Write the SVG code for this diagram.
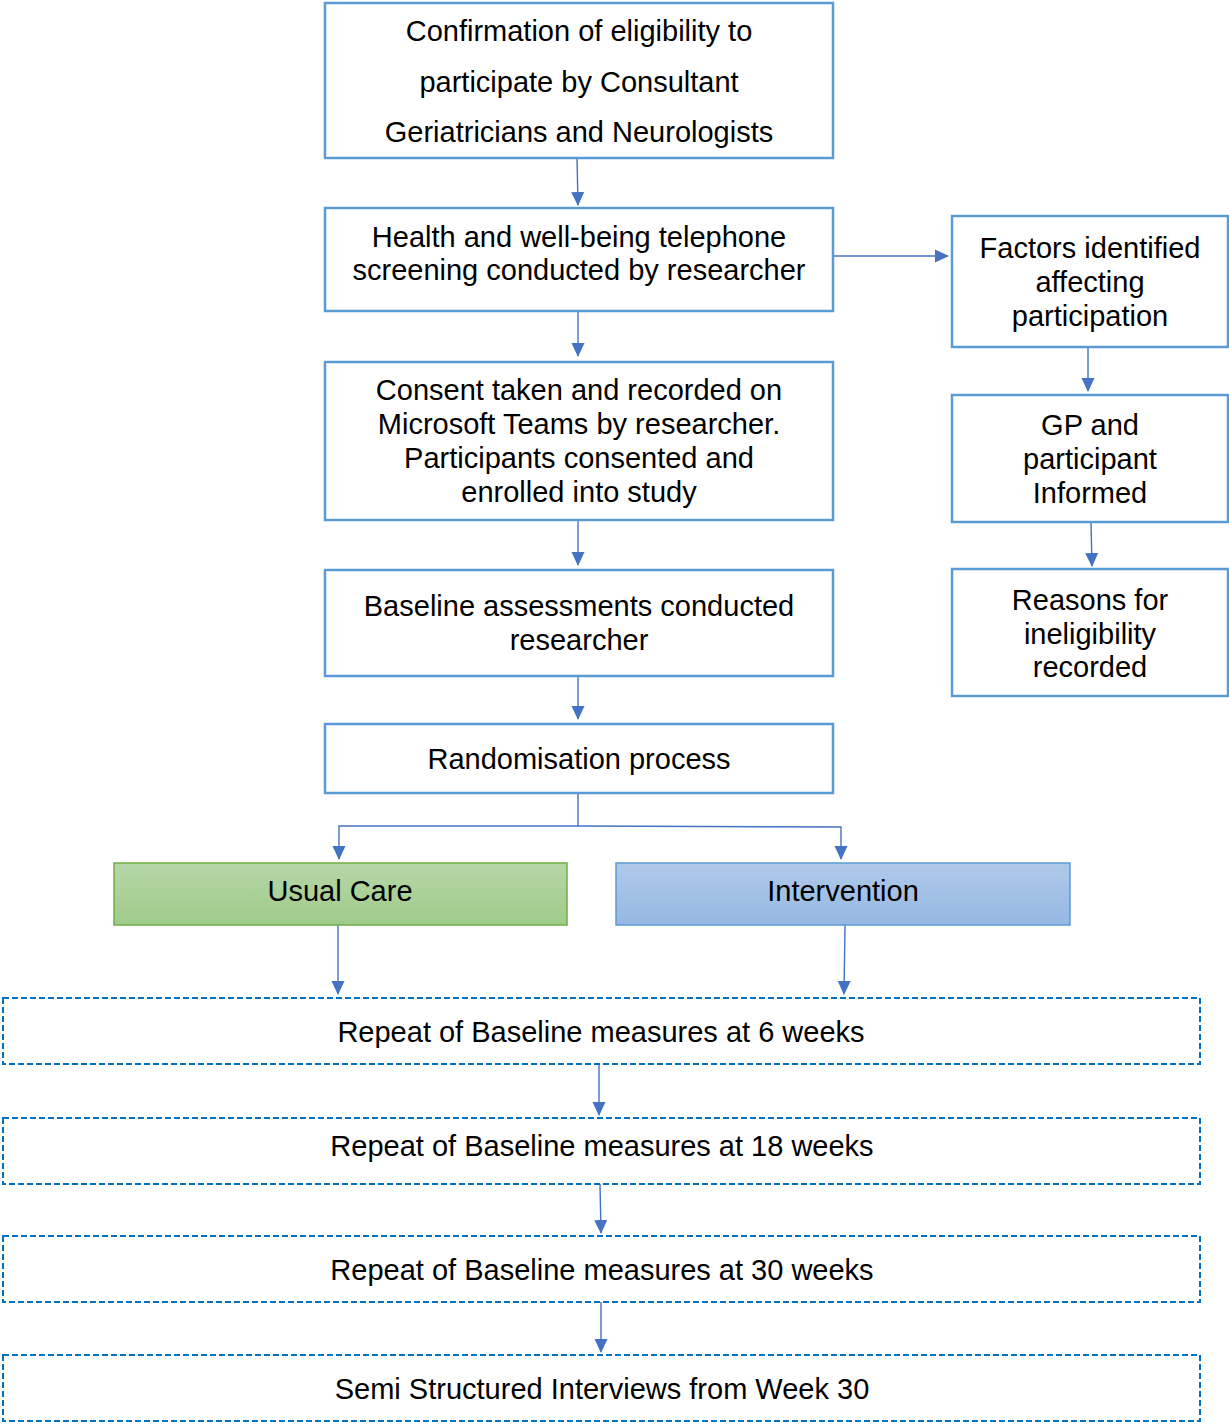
<svg xmlns="http://www.w3.org/2000/svg" width="1229" height="1424" viewBox="0 0 1229 1424">
  <defs>
    <marker id="arrow" markerUnits="userSpaceOnUse" markerWidth="14" markerHeight="14" viewBox="0 0 14 14" refX="13" refY="7" orient="auto">
      <path d="M0,0.5 L14,7 L0,13.5 Z" fill="#4472c4"/>
    </marker>
    <linearGradient id="gradGreen" x1="0" y1="0" x2="0" y2="1">
      <stop offset="0" stop-color="#b6d7a8"/>
      <stop offset="1" stop-color="#9fcb88"/>
    </linearGradient>
    <linearGradient id="gradBlue" x1="0" y1="0" x2="0" y2="1">
      <stop offset="0" stop-color="#b0c9ea"/>
      <stop offset="1" stop-color="#95b8e2"/>
    </linearGradient>
  </defs>
  <style>
    .box { fill: #ffffff; stroke: #5b9bd5; stroke-width: 2.5; }
    .dash { fill: #ffffff; stroke: #0070c0; stroke-width: 2; stroke-dasharray: 6 3; }
    .t { font-family: "Liberation Sans", Arial, sans-serif; font-size: 29px; fill: #000000; text-anchor: middle; }
    .conn { fill: none; stroke: #4472c4; stroke-width: 1.4; }
  </style>
  <rect width="1229" height="1424" fill="#ffffff"/>

  <g id="connectors">
    <path class="conn" d="M577,158 L578,205" marker-end="url(#arrow)"/>
    <path class="conn" d="M578,311 L578,356" marker-end="url(#arrow)"/>
    <path class="conn" d="M578,520 L578,565" marker-end="url(#arrow)"/>
    <path class="conn" d="M578,676 L578,719" marker-end="url(#arrow)"/>
    <path class="conn" d="M578,793 L578,826"/>
    <path class="conn" d="M578,826 L339,826 L339,859" marker-end="url(#arrow)"/>
    <path class="conn" d="M578,826 L841,827 L841,859" marker-end="url(#arrow)"/>
    <path class="conn" d="M338,925 L338,994" marker-end="url(#arrow)"/>
    <path class="conn" d="M845,925 L844,994" marker-end="url(#arrow)"/>
    <path class="conn" d="M599,1064 L599,1115" marker-end="url(#arrow)"/>
    <path class="conn" d="M600,1184 L601,1233" marker-end="url(#arrow)"/>
    <path class="conn" d="M601,1302 L601,1352" marker-end="url(#arrow)"/>
    <path class="conn" d="M833,256 L948,256" marker-end="url(#arrow)"/>
    <path class="conn" d="M1088,347 L1088,391" marker-end="url(#arrow)"/>
    <path class="conn" d="M1091,522 L1092,566" marker-end="url(#arrow)"/>
  </g>

  <g id="eligibility">
    <rect class="box" x="325" y="3" width="508" height="155"/>
    <text class="t" x="579" y="41">Confirmation of eligibility to</text>
    <text class="t" x="579" y="92">participate by Consultant</text>
    <text class="t" x="579" y="142">Geriatricians and Neurologists</text>
  </g>

  <g id="screening">
    <rect class="box" x="325" y="208" width="508" height="103"/>
    <text class="t" x="579" y="247">Health and well-being telephone</text>
    <text class="t" x="579" y="280">screening conducted by researcher</text>
  </g>

  <g id="consent">
    <rect class="box" x="325" y="362" width="508" height="158"/>
    <text class="t" x="579" y="400">Consent taken and recorded on</text>
    <text class="t" x="579" y="434">Microsoft Teams by researcher.</text>
    <text class="t" x="579" y="468">Participants consented and</text>
    <text class="t" x="579" y="502">enrolled into study</text>
  </g>

  <g id="baseline">
    <rect class="box" x="325" y="570" width="508" height="106"/>
    <text class="t" x="579" y="616">Baseline assessments conducted</text>
    <text class="t" x="579" y="650">researcher</text>
  </g>

  <g id="randomisation">
    <rect class="box" x="325" y="724" width="508" height="69"/>
    <text class="t" x="579" y="769">Randomisation process</text>
  </g>

  <g id="factors">
    <rect class="box" x="952" y="216" width="276" height="131"/>
    <text class="t" x="1090" y="258">Factors identified</text>
    <text class="t" x="1090" y="292">affecting</text>
    <text class="t" x="1090" y="326">participation</text>
  </g>

  <g id="gp-informed">
    <rect class="box" x="952" y="395" width="276" height="127"/>
    <text class="t" x="1090" y="435">GP and</text>
    <text class="t" x="1090" y="469">participant</text>
    <text class="t" x="1090" y="503">Informed</text>
  </g>

  <g id="ineligibility">
    <rect class="box" x="952" y="569" width="276" height="127"/>
    <text class="t" x="1090" y="610">Reasons for</text>
    <text class="t" x="1090" y="644">ineligibility</text>
    <text class="t" x="1090" y="677">recorded</text>
  </g>

  <g id="usual-care">
    <rect x="114" y="863" width="453" height="62" fill="url(#gradGreen)" stroke="#70ad47" stroke-width="1.5"/>
    <text class="t" x="340" y="901">Usual Care</text>
  </g>

  <g id="intervention">
    <rect x="616" y="863" width="454" height="62" fill="url(#gradBlue)" stroke="#5b9bd5" stroke-width="1.5"/>
    <text class="t" x="843" y="901">Intervention</text>
  </g>

  <g id="week6">
    <rect class="dash" x="3" y="998" width="1197" height="66"/>
    <text class="t" x="601" y="1042">Repeat of Baseline measures at 6 weeks</text>
  </g>

  <g id="week18">
    <rect class="dash" x="3" y="1118" width="1197" height="66"/>
    <text class="t" x="602" y="1156">Repeat of Baseline measures at 18 weeks</text>
  </g>

  <g id="week30">
    <rect class="dash" x="3" y="1236" width="1197" height="66"/>
    <text class="t" x="602" y="1280">Repeat of Baseline measures at 30 weeks</text>
  </g>

  <g id="interviews">
    <rect class="dash" x="3" y="1355" width="1197" height="66"/>
    <text class="t" x="602" y="1399">Semi Structured Interviews from Week 30</text>
  </g>
</svg>
